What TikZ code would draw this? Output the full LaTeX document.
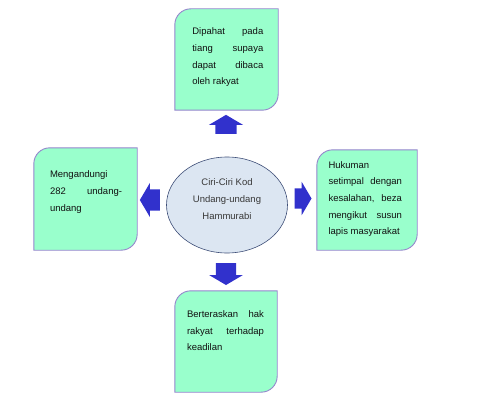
\documentclass[tikz,border=0pt]{standalone}
\usepackage{fontspec}
\setmainfont{Liberation Sans}
\usetikzlibrary{shapes.geometric,shapes.arrows}
\definecolor{leaffill}{HTML}{99FFCC}
\definecolor{leafdraw}{HTML}{9585CC}
\definecolor{hubfill}{HTML}{DCE6F2}
\definecolor{hubdraw}{HTML}{3F4F78}
\definecolor{arrowblue}{HTML}{3131CC}
\definecolor{txt}{HTML}{111111}
\definecolor{hubtxt}{HTML}{383838}
\newcommand\drawleaf[1]{%
  \draw[leaf] (#1.south west) -- ([yshift=-16pt]#1.north west)
    arc[start angle=180,end angle=90,radius=16pt] -- (#1.north east)
    -- ([yshift=16pt]#1.south east)
    arc[start angle=0,end angle=-90,radius=16pt] -- cycle;}
\newcommand\jline[2]{\makebox[#1][s]{#2}}
\begin{document}
\begin{tikzpicture}[x=1pt,y=1pt,
  leaf/.style={fill=leaffill,draw=leafdraw,line width=0.9pt},
  leafbox/.style={rectangle,draw=none,inner sep=0pt},
  leaftext/.style={anchor=base west,inner sep=0pt,text=txt,font=\fontsize{9.5}{16.7}\selectfont},
  blk/.style={single arrow,fill=arrowblue,draw=none,inner xsep=0pt,inner ysep=10.5pt,
    single arrow head extend=6.5pt,
    single arrow tip angle=119,single arrow head indent=0pt},
]
\useasboundingbox (0,0) rectangle (480,400);
% boxes
\node[leafbox,minimum width=103pt,minimum height=101pt] (top) at (226.5,340.5) {};
\node[leafbox,minimum width=103pt,minimum height=102pt] (left) at (85.5,201) {};
\node[leafbox,minimum width=100pt,minimum height=100pt] (right) at (367,200) {};
\node[leafbox,minimum width=102pt,minimum height=101pt] (bottom) at (226,58.5) {};
\drawleaf{top}
\drawleaf{left}
\drawleaf{right}
\drawleaf{bottom}
% texts
\node[leaftext] (toptext) at ([xshift=17.3pt,yshift=-26pt]top.north west)
  {\parbox[t]{71pt}{\jline{71pt}{Dipahat pada}\\\jline{71pt}{tiang supaya}\\\jline{71pt}{dapat dibaca}\\oleh rakyat}};
\node[leaftext] (lefttext) at ([xshift=16pt,yshift=-30pt]left.north west)
  {\parbox[t]{72pt}{Mengandungi\\\jline{72pt}{282 undang-}\\undang}};
\node[leaftext] (righttext) at ([xshift=11.5pt,yshift=-18.3pt]right.north west)
  {\parbox[t]{73.5pt}{Hukuman\\\jline{73.5pt}{setimpal dengan}\\\jline{73.5pt}{kesalahan, beza}\\\jline{73.5pt}{mengikut susun}\\lapis masyarakat}};
\node[leaftext] (bottomtext) at ([xshift=12pt,yshift=-26.7pt]bottom.north west)
  {\parbox[t]{77pt}{\jline{77pt}{Berteraskan hak}\\\jline{77pt}{rakyat terhadap}\\keadilan}};
% hub
\node[ellipse,fill=hubfill,draw=hubdraw,line width=0.6pt,minimum width=121pt,minimum height=96pt,inner sep=0pt] (hub) at (227,195) {};
\node[align=center,text=hubtxt,inner sep=0pt,font=\fontsize{9.5}{17}\selectfont] (hubtext) at ([yshift=5.5pt]hub.center)
  {Ciri-Ciri Kod\\Undang-undang\\Hammurabi};
% arrows
\node[blk,minimum height=19pt,rotate=90] (aup) at (226,272.5) {};
\node[blk,minimum height=20pt,rotate=180] (aleft) at (153,200) {};
\node[blk,minimum height=17pt,inner ysep=10pt] (aright) at (300,201.5) {};
\node[blk,minimum height=22pt,inner ysep=10pt,rotate=270] (adown) at (226,129) {};
\end{tikzpicture}
\end{document}
